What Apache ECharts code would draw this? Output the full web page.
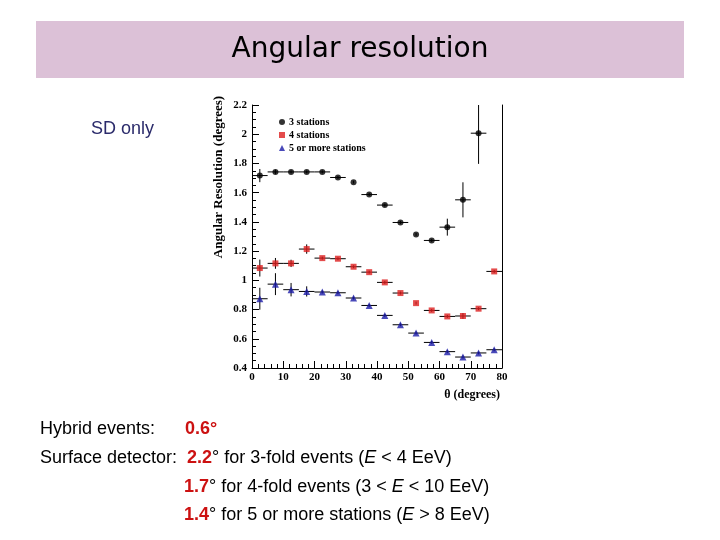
<!DOCTYPE html>
<html><head><meta charset="utf-8">
<script src="https://cdn.jsdelivr.net/npm/echarts@6/dist/echarts.min.js"></script>
<style>html,body{margin:0;padding:0;background:#fff}#c{width:720px;height:540px}</style>
</head><body><div id="c"></div>
<script>
var theta = [2.5, 7.5, 12.5, 17.5, 22.5, 27.5, 32.5, 37.5, 42.5, 47.5, 52.5, 57.5, 62.5, 67.5, 72.5, 77.5];
var res3 = [1.717, 1.742, 1.742, 1.742, 1.742, 1.704, 1.672, 1.587, 1.515, 1.396, 1.314, 1.273, 1.364, 1.551, 2.007];
var err3 = [0.045, 0.015, 0.01, 0.01, 0.01, 0.01, 0.01, 0.01, 0.01, 0.01, 0.01, 0.01, 0.058, 0.12, 0.21];
var xerr3 = [2.5, 2.5, 2.5, 2.5, 2.5, 2.5, 0, 2.5, 2.5, 2.5, 0, 2.5, 2.5, 2.5, 2.5];
var res4 = [1.084, 1.116, 1.116, 1.214, 1.152, 1.148, 1.093, 1.056, 0.986, 0.913, 0.844, 0.794, 0.753, 0.756, 0.806, 1.061];
var err4 = [0.058, 0.037, 0.025, 0.032, 0.01, 0.01, 0.01, 0.01, 0.01, 0.01, 0.01, 0.01, 0.01, 0.02, 0.01, 0.01];
var xerr4 = [2.5, 2.5, 2.5, 2.5, 2.5, 2.5, 2.5, 2.5, 2.5, 2.5, 0, 2.5, 2.5, 2.5, 2.5, 2.5];
var res5 = [0.874, 0.974, 0.936, 0.924, 0.920, 0.915, 0.879, 0.828, 0.760, 0.696, 0.639, 0.575, 0.512, 0.475, 0.503, 0.525];
var err5 = [0.075, 0.075, 0.046, 0.035, 0.01, 0.01, 0.01, 0.01, 0.01, 0.01, 0.01, 0.01, 0.01, 0.01, 0.01, 0.01];
var xerr5 = [2.5, 2.5, 2.5, 2.5, 2.5, 2.5, 2.5, 2.5, 2.5, 2.5, 2.5, 2.5, 2.5, 2.5, 2.5, 2.5];
var seriesNames = ['3 stations', '4 stations', '5 or more stations'];
var xTicks = {min: 0, max: 80, interval: 10};
var yTicks = {min: 0.4, max: 2.2, interval: 0.2};

function pts(y){ return y.map(function(v,i){ return [theta[i], v]; }); }
function errs(y, ey, ex){ return y.map(function(v,i){ return [theta[i], v, ex[i], ey[i]]; }); }

function renderErr(params, api){
  var x = api.value(0), y = api.value(1), ex = api.value(2), ey = api.value(3);
  var children = [];
  var style = {stroke: '#000', lineWidth: 1};
  if (ex > 0) {
    var a = api.coord([x - ex, y]), b = api.coord([x + ex, y]);
    children.push({type: 'line', shape: {x1: a[0], y1: a[1], x2: b[0], y2: b[1]}, style: style});
  }
  if (ey > 0) {
    var c = api.coord([x, y - ey]), d = api.coord([x, y + ey]);
    children.push({type: 'line', shape: {x1: c[0], y1: c[1], x2: d[0], y2: d[1]}, style: style});
  }
  return {type: 'group', children: children};
}

var axisFont = {fontFamily: 'Liberation Serif', fontWeight: 'bold', fontSize: 11, color: '#000'};
var chart = echarts.init(document.getElementById('c'), null, {renderer: 'canvas'});
var colors = ['#000000', '#dd1f1f', '#1c1ca8'];
var symbols = ['circle', 'rect', 'triangle'];
var ys = [res3, res4, res5], eys = [err3, err4, err5], exs = [xerr3, xerr4, xerr5];
var series = [];
for (var k = 0; k < 3; k++) {
  series.push({type: 'custom', name: seriesNames[k] + ' err', renderItem: renderErr, data: errs(ys[k], eys[k], exs[k]), clip: true, silent: true, z: 2});
}
for (var k2 = 0; k2 < 3; k2++) {
  series.push({type: 'scatter', name: seriesNames[k2], data: pts(ys[k2]), symbol: symbols[k2], symbolSize: k2 === 2 ? 7 : 6, itemStyle: {color: colors[k2]}, z: 3, clip: true});
}

var big = 18;
var richStyle = {r: {fontFamily: 'Liberation Sans', fontWeight: 'bold', fontSize: big, fill: '#cc1111'}, i: {fontFamily: 'Liberation Sans', fontStyle: 'italic', fontSize: big, fill: '#000'}};

chart.setOption({
  animation: false,
  backgroundColor: '#fff',
  grid: {left: 252, right: 218, top: 105, bottom: 172},
  legend: {
    data: seriesNames.map(function(n, i){ return {name: n, icon: symbols[i]}; }),
    orient: 'vertical', left: 274, top: 112, itemWidth: 6, itemHeight: 6, itemGap: 3,
    textStyle: {fontFamily: 'Liberation Serif', fontWeight: 'bold', fontSize: 10, color: '#000', padding: [0, 0, 0, -1]},
    selectedMode: false
  },
  xAxis: {
    type: 'value', min: xTicks.min, max: xTicks.max, interval: xTicks.interval,
    axisLine: {lineStyle: {color: '#000', width: 1}},
    axisTick: {inside: true, length: 7, lineStyle: {color: '#000'}},
    minorTick: {show: true, splitNumber: 5, length: 4, lineStyle: {color: '#000'}},
    axisLabel: Object.assign({margin: 4}, axisFont),
    splitLine: {show: false}
  },
  yAxis: [{
    type: 'value', min: yTicks.min, max: yTicks.max, interval: yTicks.interval,
    axisLine: {show: true, lineStyle: {color: '#000', width: 1}},
    axisTick: {show: true, inside: true, length: 7, lineStyle: {color: '#000'}},
    minorTick: {show: true, splitNumber: 4, length: 4, lineStyle: {color: '#000'}},
    axisLabel: Object.assign({margin: 5}, axisFont),
    splitLine: {show: false}
  }, {
    type: 'value', position: 'right', min: yTicks.min, max: yTicks.max,
    axisLine: {show: true, lineStyle: {color: '#000', width: 1}},
    axisTick: {show: false}, axisLabel: {show: false}, splitLine: {show: false}
  }],
  series: series,
  graphic: [
    {type: 'rect', shape: {x: 36, y: 21, width: 648, height: 57}, style: {fill: '#dcc1d7'}, z: -1},
    {type: 'text', x: 360, y: 50, style: {text: 'Angular resolution', fontFamily: 'DejaVu Sans', fontSize: 28, fill: '#000', align: 'center', verticalAlign: 'middle'}},
    {type: 'text', x: 91, y: 129, style: {text: 'SD only', fontFamily: 'Liberation Sans', fontSize: big, fill: '#2b2b6b', verticalAlign: 'middle'}},
    {type: 'text', x: 219, y: 177, rotation: Math.PI / 2, style: {text: 'Angular Resolution (degrees)', fontFamily: 'Liberation Serif', fontWeight: 'bold', fontSize: 13, fill: '#000', align: 'center', verticalAlign: 'middle'}},
    {type: 'text', x: 500, y: 395, style: {text: 'θ (degrees)', fontFamily: 'Liberation Serif', fontWeight: 'bold', fontSize: 12, fill: '#000', align: 'right', verticalAlign: 'middle'}},
    {type: 'text', x: 40, y: 429, style: {text: 'Hybrid events:', fontFamily: 'Liberation Sans', fontSize: big, fill: '#000', verticalAlign: 'middle'}},
    {type: 'text', x: 185, y: 429, style: {text: '0.6°', fontFamily: 'Liberation Sans', fontWeight: 'bold', fontSize: big, fill: '#cc1111', verticalAlign: 'middle'}},
    {type: 'text', x: 40, y: 458, style: {text: 'Surface detector:', fontFamily: 'Liberation Sans', fontSize: big, fill: '#000', verticalAlign: 'middle'}},
    {type: 'text', x: 187, y: 458, style: {text: '{r|2.2}° for 3-fold events ({i|E} < 4 EeV)', fontFamily: 'Liberation Sans', fontSize: big, fill: '#000', verticalAlign: 'middle', rich: richStyle}},
    {type: 'text', x: 184, y: 487, style: {text: '{r|1.7}° for 4-fold events (3 < {i|E} < 10 EeV)', fontFamily: 'Liberation Sans', fontSize: big, fill: '#000', verticalAlign: 'middle', rich: richStyle}},
    {type: 'text', x: 184, y: 515, style: {text: '{r|1.4}° for 5 or more stations ({i|E} > 8 EeV)', fontFamily: 'Liberation Sans', fontSize: big, fill: '#000', verticalAlign: 'middle', rich: richStyle}}
  ]
});
</script></body></html>
